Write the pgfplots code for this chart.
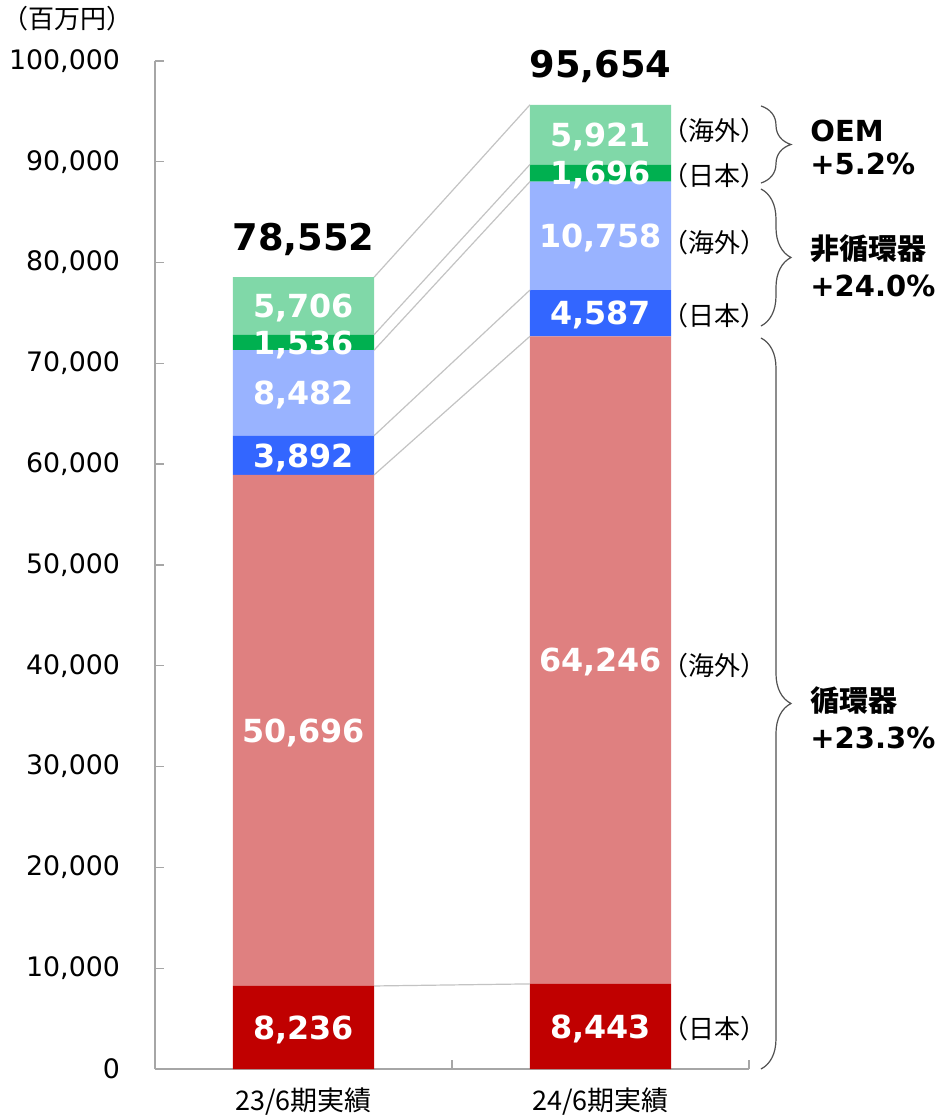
\documentclass[border=0pt]{standalone}
\usepackage{fontspec}
\setmainfont{DejaVu Sans}
\newfontfamily\jp{Noto Sans CJK JP}
\usepackage{pgfplots}
\pgfplotsset{compat=1.18}
\usetikzlibrary{decorations.pathreplacing}
\definecolor{cjr}{RGB}{192,0,0}
\definecolor{cos}{RGB}{223,128,128}
\definecolor{njr}{RGB}{51,102,255}
\definecolor{nos}{RGB}{153,179,255}
\definecolor{ojr}{RGB}{0,176,80}
\definecolor{oos}{RGB}{128,216,168}
\definecolor{axgray}{RGB}{166,166,166}
\definecolor{conn}{RGB}{195,195,195}
\definecolor{brc}{RGB}{80,80,80}
\begin{document}
\begin{tikzpicture}
\path[use as bounding box] (-77.5pt,-23.5pt) rectangle (392.5pt,534.5pt);
\pgfplotsset{common/.style={
  at={(0pt,0pt)}, anchor=south west,
  scale only axis, width=297pt, height=504pt,
  xmin=-0.5, xmax=1.5, ymin=0, ymax=100000, clip=false}}
\begin{axis}[
  common,
  ybar stacked, bar width=0.475, bar shift=0pt,
  axis x line*=bottom, axis y line*=left,
  axis line style={-, draw=axgray, line width=0.7pt},
  tick style={draw=axgray, line width=0.7pt},
  tick align=inside, major tick length=4.5pt,
  xtick={-0.5,0.5,1.5}, xticklabels={,,},
  extra x ticks={0,1},
  extra x tick labels={{\jp 23/6期実績},{\jp 24/6期実績}},
  extra x tick style={major tick length=0pt,
     xticklabel style={font=\fontsize{13.5}{15}\selectfont, yshift=-6pt}},
  ytick={0,10000,20000,30000,40000,50000,60000,70000,80000,90000,100000},
  scaled y ticks=false,
  /pgf/number format/fixed,
  /pgf/number format/1000 sep={,},
  /pgf/number format/assume math mode=true,
  yticklabel style={font=\fontsize{13.4}{15}\selectfont, xshift=-14pt},
]
\addplot[fill=cjr, draw=none] coordinates {(0,8236) (1,8443)};
\addplot[fill=cos, draw=none] coordinates {(0,50696) (1,64246)};
\addplot[fill=njr, draw=none] coordinates {(0,3892) (1,4587)};
\addplot[fill=nos, draw=none] coordinates {(0,8482) (1,10758)};
\addplot[fill=ojr, draw=none] coordinates {(0,1536) (1,1696)};
\addplot[fill=oos, draw=none] coordinates {(0,5706) (1,5921)};
\end{axis}
\begin{axis}[common, hide axis]
% connector lines between the cumulative boundaries
\addplot[conn, line width=0.6pt] coordinates {(0.2375,8236) (0.7625,8443)};
\addplot[conn, line width=0.6pt] coordinates {(0.2375,58932) (0.7625,72689)};
\addplot[conn, line width=0.6pt] coordinates {(0.2375,62824) (0.7625,77276)};
\addplot[conn, line width=0.6pt] coordinates {(0.2375,71306) (0.7625,88034)};
\addplot[conn, line width=0.6pt] coordinates {(0.2375,72842) (0.7625,89730)};
\addplot[conn, line width=0.6pt] coordinates {(0.2375,78548) (0.7625,95651)};
% segment labels
\tikzset{seg/.style={text=white, font=\fontsize{15.9}{17}\selectfont\bfseries, anchor=center, text depth=0pt, inner sep=0pt}}
\node[seg] at (axis cs:0,4118) {8,236};
\node[seg] at (axis cs:0,33584) {50,696};
\node[seg] at (axis cs:0,60878) {3,892};
\node[seg] at (axis cs:0,67065) {8,482};
\node[seg] at (axis cs:0,72074) {1,536};
\node[seg] at (axis cs:0,75695) {5,706};
\node[seg] at (axis cs:1,4222) {8,443};
\node[seg] at (axis cs:1,40566) {64,246};
\node[seg] at (axis cs:1,74983) {4,587};
\node[seg] at (axis cs:1,82655) {10,758};
\node[seg] at (axis cs:1,88882) {1,696};
\node[seg] at (axis cs:1,92691) {5,921};
% totals
\node[anchor=base, yshift=13.5pt, font=\fontsize{18.4}{20}\selectfont\bfseries, inner sep=0pt] at (axis cs:0,78548) {78,552};
\node[anchor=base, yshift=13.5pt, font=\fontsize{18.4}{20}\selectfont\bfseries, inner sep=0pt] at (axis cs:1,95651) {95,654};
% unit
\node[font=\jp\fontsize{13}{14}\selectfont] at (axis cs:-0.793,104167) {（百万円）};
% region labels
\tikzset{reg/.style={font=\jp\fontsize{13}{14}\selectfont, inner sep=0pt}}
\node[reg] at (axis cs:1.3855,93056) {（海外）};
\node[reg] at (axis cs:1.3855,88591) {（日本）};
\node[reg] at (axis cs:1.3855,81944) {（海外）};
\node[reg] at (axis cs:1.3855,74702) {（日本）};
\node[reg] at (axis cs:1.3855,39980) {（海外）};
\node[reg] at (axis cs:1.3855,3968) {（日本）};
% braces
\tikzset{br/.style={draw=brc, line width=0.6pt, decorate, decoration={brace, amplitude=15pt}}}
\draw[br] (axis cs:1.5404,95536) -- (axis cs:1.5404,87897);
\draw[br] (axis cs:1.5404,87302) -- (axis cs:1.5404,73710);
\draw[br] (axis cs:1.5404,72520) -- (axis cs:1.5404,0);
% group labels
\tikzset{grp/.style={anchor=west, inner sep=0pt, font=\fontsize{14.5}{16}\selectfont\bfseries}}
\node[grp] at (axis cs:1.7054,93056) {OEM};
\node[grp] at (axis cs:1.7054,89782) {+5.2\%};
\node[grp] at (axis cs:1.7054,81349) {\jp\bfseries 非循環器};
\node[grp] at (axis cs:1.7054,77679) {+24.0\%};
\node[grp] at (axis cs:1.7054,36508) {\jp\bfseries 循環器};
\node[grp] at (axis cs:1.7054,32837) {+23.3\%};
\end{axis}
\end{tikzpicture}
\end{document}
